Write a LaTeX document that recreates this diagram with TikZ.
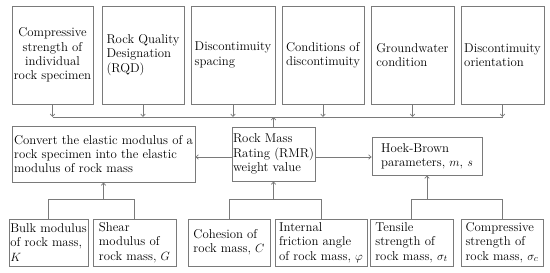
\documentclass[tikz,border=0pt]{standalone}
\usepackage{fontspec}
\usetikzlibrary{arrows.meta}
\definecolor{linegray}{HTML}{7A7A7A}
\definecolor{txt}{HTML}{000000}
\begin{document}
\begin{tikzpicture}[x=1pt,y=-1pt,
 box/.style={draw=linegray, line width=0.8pt, align=left, inner sep=1pt, font=\rmfamily\fontsize{12.8}{14.3}\selectfont, text=txt},
 arr/.style={draw=linegray, line width=0.7pt, -{Straight Barb[length=2.5pt,width=4.5pt]}},
 ln/.style={draw=linegray, line width=0.7pt}]
\useasboundingbox[fill=white] (0,0) rectangle (550,273);
% top row
\node[box, minimum width=81pt, minimum height=98pt, align=center] (t1) at (52.5,55) {Compressive\\strength of\\individual\\rock specimen};
\node[box, minimum width=82pt, minimum height=98pt] (t2) at (143,55) {Rock Quality\\Designation\\(RQD)};
\node[box, minimum width=84pt, minimum height=98pt] (t3) at (233,55) {Discontimuity\\spacing};
\node[box, minimum width=82pt, minimum height=98pt] (t4) at (323,55) {Conditions of\\discontimuity};
\node[box, minimum width=83pt, minimum height=98pt] (t5) at (412.5,55) {Groundwater\\condition};
\node[box, minimum width=83pt, minimum height=98pt] (t6) at (502.5,55) {Discontimuity\\orientation};
% middle row
\node[box, minimum width=183pt, minimum height=56pt] (conv) at (103.5,154) {Convert the elastic modulus of a\\rock specimen into the elastic\\modulus of rock mass};
\node[box, minimum width=83pt, minimum height=54pt] (rmr) at (273.5,154) {Rock Mass\\Rating (RMR)\\weight value};
\node[box, minimum width=110pt, minimum height=38pt] (hb) at (427,156) {Hoek-Brown\\parameters, $m$, $s$};
% bottom row
\node[box, minimum width=79pt, minimum height=47pt] (b1) at (48.5,242.5) {Bulk modulus\\of rock mass,\\$K$};
\node[box, minimum width=83pt, minimum height=47pt] (b2) at (134.5,242.5) {Shear\\modulus of\\rock mass, $G$};
\node[box, minimum width=82pt, minimum height=47pt] (b3) at (229,242.5) {Cohesion of\\rock mass, $C$};
\node[box, minimum width=92pt, minimum height=47pt] (b4) at (321,242.5) {Internal\\friction angle\\of rock mass, $\varphi$};
\node[box, minimum width=83pt, minimum height=47pt] (b5) at (411.5,242.5) {Tensile\\strength of\\rock mass, $\sigma_t$};
\node[box, minimum width=82pt, minimum height=47pt] (b6) at (502,242.5) {Compressive\\strength of\\rock mass, $\sigma_c$};
% bus lines
\coordinate (bus) at (0,117);
\coordinate (hy) at (0,157);
\coordinate (lb) at (0,199.5);
\foreach \n in {t1,t2,t3,t4,t5,t6} \draw[arr] (\n.south) -- (\n.south |- bus);
\draw[ln] (t1.south |- bus) -- (t6.south |- bus);
\draw[arr] (rmr.north) -- (rmr.north |- bus);
\draw[arr] (rmr.west |- hy) -- (conv.east |- hy);
\draw[arr] (rmr.east |- hy) -- (hb.west |- hy);
\draw[ln] (b1.north) -- (b1.north |- lb) -- (b2.north |- lb) -- (b2.north);
\draw[arr] (conv.south |- lb) -- (conv.south);
\draw[ln] (b3.north) -- (b3.north |- lb) -- (b4.north |- lb) -- (b4.north);
\draw[arr] (rmr.south |- lb) -- (rmr.south);
\draw[ln] (b5.north) -- (b5.north |- lb) -- (b6.north |- lb) -- (b6.north);
\draw[arr] (hb.south |- lb) -- (hb.south);
\end{tikzpicture}
\end{document}
